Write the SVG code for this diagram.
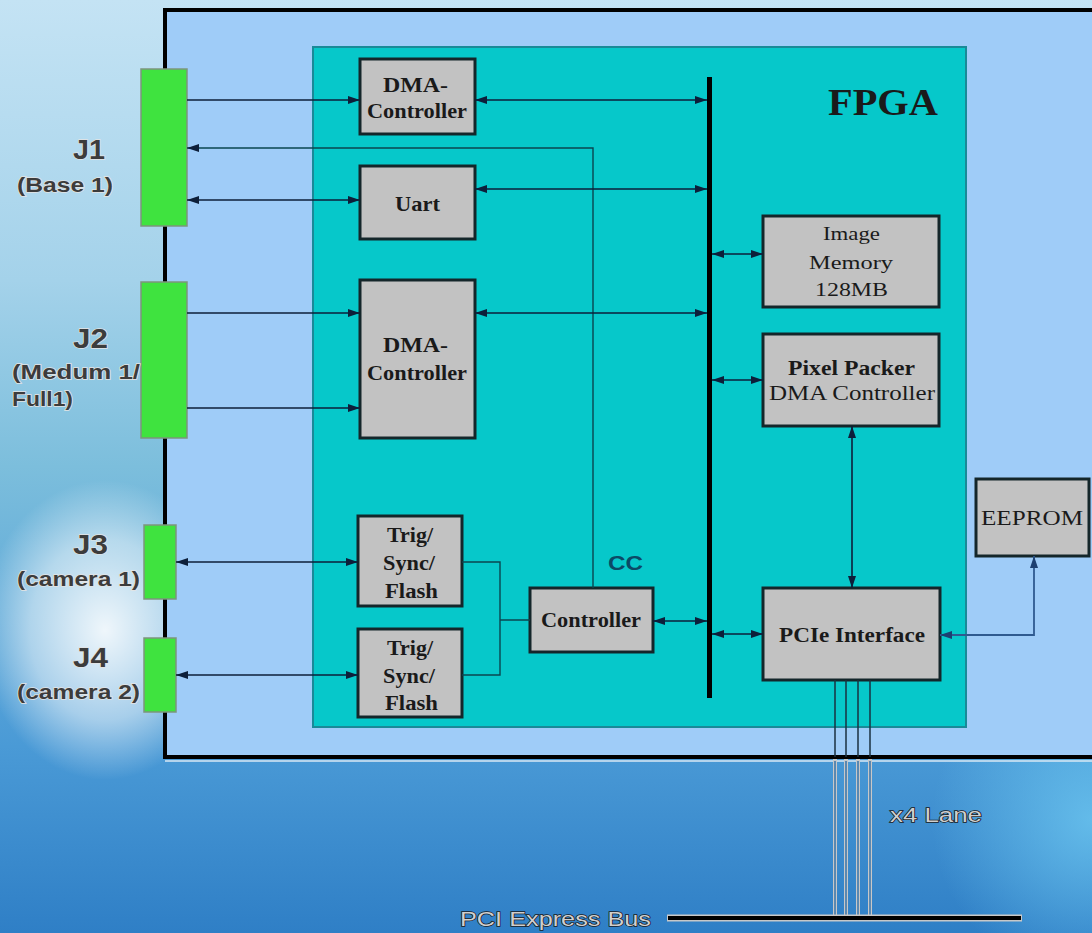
<svg xmlns="http://www.w3.org/2000/svg" width="1092" height="933" viewBox="0 0 1092 933">
<defs>
<linearGradient id="bg" x1="0" y1="0" x2="0" y2="1">
<stop offset="0" stop-color="#c4e3f4"/>
<stop offset="0.3" stop-color="#a4d2ea"/>
<stop offset="0.5" stop-color="#7cbedc"/>
<stop offset="0.8" stop-color="#4a9ad6"/>
<stop offset="1" stop-color="#2f7fc6"/>
</linearGradient>
<radialGradient id="glow1" cx="105" cy="630" r="125" gradientUnits="userSpaceOnUse" gradientTransform="translate(105 630) scale(1 1.2) translate(-105 -630)">
<stop offset="0" stop-color="#ffffff" stop-opacity="0.9"/>
<stop offset="0.6" stop-color="#ffffff" stop-opacity="0.5"/>
<stop offset="1" stop-color="#ffffff" stop-opacity="0"/>
</radialGradient>
<radialGradient id="glow2" cx="1092" cy="820" r="160" gradientUnits="userSpaceOnUse">
<stop offset="0" stop-color="#6cc6f0" stop-opacity="0.8"/>
<stop offset="1" stop-color="#6cc6f0" stop-opacity="0"/>
</radialGradient>
<marker id="arr" viewBox="0 0 12 8" markerWidth="12" markerHeight="8" markerUnits="userSpaceOnUse" refX="12" refY="4" orient="auto-start-reverse">
<path d="M0,0 L12,4 L0,8 z" fill="#0d1f3a"/>
</marker>
<marker id="arrb" viewBox="0 0 12 8" markerWidth="12" markerHeight="8" markerUnits="userSpaceOnUse" refX="12" refY="4" orient="auto-start-reverse">
<path d="M0,0 L12,4 L0,8 z" fill="#1d3f70"/>
</marker>
<style>
.box{fill:#c2c2c2;stroke:#14262a;stroke-width:3}
.jack{fill:#3fe33f;stroke:#7d957d;stroke-width:1.5}
.lbl{font-family:"Liberation Serif",serif;font-weight:bold;fill:#1a1a1a;text-anchor:start}
.lblr{font-family:"Liberation Serif",serif;fill:#1a1a1a;text-anchor:start}
.ext{font-family:"Liberation Sans",Arial,sans-serif;font-weight:bold;fill:#3c3c3c;stroke:#e4e4e4;stroke-width:1.4;paint-order:stroke}
.bot{font-family:"Liberation Sans",Arial,sans-serif;fill:#cfcfcf;stroke:#1a1a1a;stroke-width:1.4;paint-order:stroke}
.c{fill:none;stroke:#0d1f3a;stroke-width:1.6}
.ct{fill:none;stroke:#0b4550;stroke-width:1.4}
</style>
</defs>
<rect x="0" y="0" width="1092" height="933" fill="url(#bg)"/>
<rect x="0" y="0" width="1092" height="933" fill="url(#glow1)"/>
<rect x="0" y="0" width="1092" height="933" fill="url(#glow2)"/>

<g id="board">
<rect x="165" y="10" width="940" height="747" fill="#9fccf8" stroke="#000" stroke-width="4"/>
<line x1="165" y1="761" x2="1092" y2="761" stroke="#d8e8f4" stroke-width="1.5"/>
</g>

<g id="fpga">
<rect x="313" y="47" width="653" height="680" fill="#06c8ca" stroke="#1a8a98" stroke-width="2"/>
<text x="828" y="115" class="lbl" font-size="38" textLength="110" lengthAdjust="spacingAndGlyphs">FPGA</text>
</g>

<g id="j1">
<rect x="141" y="69" width="46" height="157" class="jack"/>
<text x="73" y="159" class="ext" font-size="28" textLength="32" lengthAdjust="spacingAndGlyphs">J1</text>
<text x="17" y="192" class="ext" font-size="20" textLength="96" lengthAdjust="spacingAndGlyphs">(Base 1)</text>
</g>
<g id="j2">
<rect x="141" y="282" width="46" height="156" class="jack"/>
<text x="73" y="348" class="ext" font-size="28" textLength="35" lengthAdjust="spacingAndGlyphs">J2</text>
<text x="12" y="379" class="ext" font-size="20" textLength="128" lengthAdjust="spacingAndGlyphs">(Medum 1/</text>
<text x="12" y="406" class="ext" font-size="20" textLength="61" lengthAdjust="spacingAndGlyphs">Full1)</text>
</g>
<g id="j3">
<rect x="144" y="525" width="32" height="74" class="jack"/>
<text x="73" y="554" class="ext" font-size="28" textLength="35" lengthAdjust="spacingAndGlyphs">J3</text>
<text x="17" y="586" class="ext" font-size="20" textLength="123" lengthAdjust="spacingAndGlyphs">(camera 1)</text>
</g>
<g id="j4">
<rect x="144" y="638" width="32" height="74" class="jack"/>
<text x="73" y="667" class="ext" font-size="28" textLength="35" lengthAdjust="spacingAndGlyphs">J4</text>
<text x="17" y="699" class="ext" font-size="20" textLength="123" lengthAdjust="spacingAndGlyphs">(camera 2)</text>
</g>

<g id="dma1">
<rect x="360" y="59" width="115" height="75" class="box"/>
<text x="383" y="92" class="lbl" font-size="21" textLength="65" lengthAdjust="spacingAndGlyphs">DMA-</text>
<text x="367" y="118" class="lbl" font-size="21" textLength="100" lengthAdjust="spacingAndGlyphs">Controller</text>
</g>
<g id="uart">
<rect x="360" y="166" width="115" height="73" class="box"/>
<text x="395" y="211" class="lbl" font-size="21" textLength="45" lengthAdjust="spacingAndGlyphs">Uart</text>
</g>
<g id="dma2">
<rect x="360" y="280" width="115" height="158" class="box"/>
<text x="383" y="352" class="lbl" font-size="21" textLength="65" lengthAdjust="spacingAndGlyphs">DMA-</text>
<text x="367" y="380" class="lbl" font-size="21" textLength="100" lengthAdjust="spacingAndGlyphs">Controller</text>
</g>
<g id="trig1">
<rect x="358" y="516" width="104" height="90" class="box"/>
<text x="387" y="542" class="lbl" font-size="20" textLength="46" lengthAdjust="spacingAndGlyphs">Trig/</text>
<text x="383" y="570" class="lbl" font-size="20" textLength="52" lengthAdjust="spacingAndGlyphs">Sync/</text>
<text x="385" y="598" class="lbl" font-size="20" textLength="53" lengthAdjust="spacingAndGlyphs">Flash</text>
</g>
<g id="trig2">
<rect x="358" y="629" width="104" height="88" class="box"/>
<text x="387" y="655" class="lbl" font-size="20" textLength="46" lengthAdjust="spacingAndGlyphs">Trig/</text>
<text x="383" y="683" class="lbl" font-size="20" textLength="52" lengthAdjust="spacingAndGlyphs">Sync/</text>
<text x="385" y="710" class="lbl" font-size="20" textLength="53" lengthAdjust="spacingAndGlyphs">Flash</text>
</g>
<g id="controller">
<rect x="530" y="588" width="123" height="64" class="box"/>
<text x="541" y="627" class="lbl" font-size="20" textLength="100" lengthAdjust="spacingAndGlyphs">Controller</text>
<text x="608" y="570" font-family="Liberation Sans,Arial,sans-serif" font-weight="bold" font-size="20" fill="#0b4a66" textLength="35" lengthAdjust="spacingAndGlyphs">CC</text>
</g>
<g id="imagemem">
<rect x="763" y="216" width="176" height="91" class="box"/>
<text x="823" y="240" class="lblr" font-size="18" textLength="57" lengthAdjust="spacingAndGlyphs">Image</text>
<text x="809" y="269" class="lblr" font-size="18" textLength="84" lengthAdjust="spacingAndGlyphs">Memory</text>
<text x="815" y="296" class="lblr" font-size="18" textLength="73" lengthAdjust="spacingAndGlyphs">128MB</text>
</g>
<g id="pixelpacker">
<rect x="763" y="334" width="176" height="92" class="box"/>
<text x="788" y="375" class="lbl" font-size="20" textLength="127" lengthAdjust="spacingAndGlyphs">Pixel Packer</text>
<text x="769" y="400" class="lblr" font-size="20" textLength="166" lengthAdjust="spacingAndGlyphs">DMA Controller</text>
</g>
<g id="pcie">
<rect x="763" y="588" width="177" height="92" class="box"/>
<text x="779" y="642" class="lbl" font-size="20" textLength="146" lengthAdjust="spacingAndGlyphs">PCIe Interface</text>
</g>
<g id="eeprom">
<rect x="976" y="479" width="113" height="77" class="box"/>
<text x="981" y="525" class="lblr" font-size="21" textLength="102" lengthAdjust="spacingAndGlyphs">EEPROM</text>
</g>

<g id="connectors">
<line x1="709.5" y1="77" x2="709.5" y2="698" stroke="#000" stroke-width="5"/>
<path class="c" d="M187,100 H360" marker-end="url(#arr)"/>
<path class="c" d="M475,100 H707" marker-start="url(#arr)" marker-end="url(#arr)"/>
<path class="ct" d="M593,588 V148 H187" marker-end="url(#arr)"/>
<path class="c" d="M187,200 H360" marker-start="url(#arr)" marker-end="url(#arr)"/>
<path class="c" d="M475,189 H707" marker-start="url(#arr)" marker-end="url(#arr)"/>
<path class="c" d="M187,313 H360" marker-end="url(#arr)"/>
<path class="c" d="M187,408 H360" marker-end="url(#arr)"/>
<path class="c" d="M475,313 H707" marker-start="url(#arr)" marker-end="url(#arr)"/>
<path class="c" d="M712,254 H763" marker-start="url(#arr)" marker-end="url(#arr)"/>
<path class="c" d="M712,380 H763" marker-start="url(#arr)" marker-end="url(#arr)"/>
<path class="c" d="M852,426 V588" marker-start="url(#arr)" marker-end="url(#arr)"/>
<path class="c" d="M176,562 H358" marker-start="url(#arr)" marker-end="url(#arr)"/>
<path class="c" d="M176,675 H358" marker-start="url(#arr)" marker-end="url(#arr)"/>
<path class="ct" d="M462,562 H500 V675 H462 M500,620 H530"/>
<path class="c" d="M653,621 H707" marker-start="url(#arr)" marker-end="url(#arr)"/>
<path class="c" d="M712,634 H763" marker-start="url(#arr)" marker-end="url(#arr)"/>
<path d="M940,635 H1034 V556" fill="none" stroke="#2f5a90" stroke-width="1.8" marker-start="url(#arrb)" marker-end="url(#arrb)"/>
<g stroke="#1a3040" stroke-width="1.5">
<line x1="835" y1="680" x2="835" y2="757"/>
<line x1="846" y1="680" x2="846" y2="757"/>
<line x1="858" y1="680" x2="858" y2="757"/>
<line x1="870" y1="680" x2="870" y2="757"/>
</g>
<g stroke="#c8c8c8" stroke-width="4">
<line x1="835" y1="759" x2="835" y2="916"/>
<line x1="846" y1="759" x2="846" y2="916"/>
<line x1="858" y1="759" x2="858" y2="916"/>
<line x1="870" y1="759" x2="870" y2="916"/>
</g>
<g stroke="#2b6ea8" stroke-width="1.4">
<line x1="835" y1="761" x2="835" y2="915"/>
<line x1="846" y1="761" x2="846" y2="915"/>
<line x1="858" y1="761" x2="858" y2="915"/>
<line x1="870" y1="761" x2="870" y2="915"/>
</g>
<line x1="667" y1="918" x2="1022" y2="918" stroke="#c8c8c8" stroke-width="7"/>
<line x1="668" y1="918" x2="1021" y2="918" stroke="#000" stroke-width="4"/>
</g>

<g id="labels">
<text x="890" y="822" class="bot" font-size="20" textLength="92" lengthAdjust="spacingAndGlyphs">x4 Lane</text>
<text x="460" y="926" class="bot" font-size="21" textLength="191" lengthAdjust="spacingAndGlyphs">PCI Express Bus</text>
</g>
</svg>
